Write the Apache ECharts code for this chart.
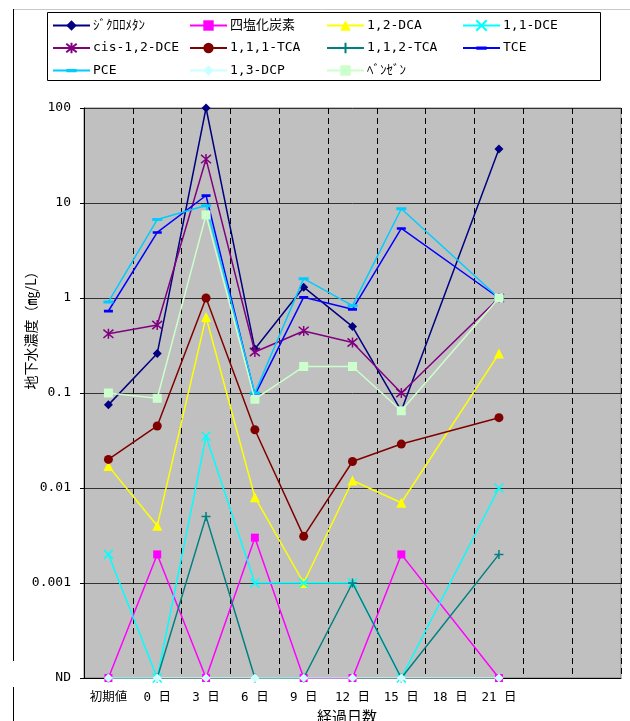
<!DOCTYPE html>
<html>
<head>
<meta charset="utf-8">
<script src="https://cdn.jsdelivr.net/npm/echarts@6/dist/echarts.min.js"></script>
<style>
html,body{margin:0;padding:0;background:#fff;}
#chart{width:630px;height:721px;}
</style>
</head>
<body>
<div id="chart"></div>
<script>
// ---- data ----
const ND = 0.0001;
const categories = ['初期値', '0 日', '3 日', '6 日', '9 日', '12 日', '15 日', '18 日', '21 日', '', ' '];
const yTickLabels = ['ND', '0.001', '0.01', '0.1', '1', '10', '100'];
const seriesNames = ['ｼﾞｸﾛﾛﾒﾀﾝ', '四塩化炭素', '1,2-DCA', '1,1-DCE', 'cis-1,2-DCE', '1,1,1-TCA', '1,1,2-TCA', 'TCE', 'PCE', '1,3-DCP', 'ﾍﾞﾝｾﾞﾝ'];
const dichloromethane = [0.075, 0.26, 100, 0.29, 1.3, 0.5, 0.065, '-', 37];
const carbonTetrachloride = [ND, 0.002, ND, 0.003, ND, ND, 0.002, '-', ND];
const dca12 = [0.017, 0.004, 0.63, 0.008, 0.001, 0.012, 0.007, '-', 0.26];
const dce11 = [0.002, ND, 0.035, 0.001, 0.001, 0.001, ND, '-', 0.01];
const cisDce12 = [0.42, 0.52, 29, 0.27, 0.45, 0.34, 0.1, '-', 1.0];
const tca111 = [0.02, 0.045, 1.0, 0.041, 0.0031, 0.019, 0.029, '-', 0.055];
const tca112 = [ND, ND, 0.005, ND, ND, 0.001, ND, '-', 0.002];
const tce = [0.73, 4.9, 12, 0.095, 1.02, 0.76, 5.4, '-', 1.0];
const pce = [0.91, 6.7, 9.4, 0.1, 1.6, 0.83, 8.7, '-', 1.0];
const dcp13 = [ND, ND, ND, ND, ND, ND, ND, '-', ND];
const benzene = [0.1, 0.088, 7.5, 0.086, 0.19, 0.19, 0.065, '-', 1.0];

const seriesData = [dichloromethane, carbonTetrachloride, dca12, dce11, cisDce12, tca111, tca112, tce, pce, dcp13, benzene];

// ---- styles ----
const colors = ['#000080', '#FF00FF', '#FFFF00', '#00FFFF', '#800080', '#800000', '#008080', '#0000FF', '#00CCFF', '#CCFFFF', '#CCFFCC'];
// a short bar centred inside an (invisible) square box
const dashPath = 'path://M0,0L0.01,0.01M10,10L9.99,9.99M0,3.6L10,3.6L10,6.6L0,6.6Z';
const symbols = [
  'diamond', 'rect', 'triangle',
  'path://M0,0L10,10M10,0L0,10',
  'path://M0,0L10,10M10,0L0,10M5,-1L5,11',
  'circle',
  'path://M5,0L5,10M0,5L10,5',
  dashPath, dashPath, 'diamond', 'rect'
];
const symbolSizes = [9, 8, 10, 9, 10, 9, 9, 9, 10, 9, 9];
const strokeSymbols = [3, 4, 6];

const mono = '"DejaVu Sans Mono", "Noto Sans CJK JP", monospace';
const cjk = '"Noto Sans CJK JP", "DejaVu Sans", sans-serif';

const chart = echarts.init(document.getElementById('chart'), null, {renderer: 'canvas'});

const series = seriesNames.map((name, i) => {
  const stroke = strokeSymbols.indexOf(i) >= 0;
  return {
    name: name,
    type: 'line',
    data: seriesData[i],
    connectNulls: true,
    symbol: symbols[i],
    symbolSize: symbolSizes[i],
    showAllSymbol: true,
    lineStyle: {color: colors[i], width: 1.5},
    itemStyle: stroke ? {color: colors[i], borderColor: colors[i], borderWidth: 1.5} : {color: colors[i], borderWidth: 0},
    emphasis: {disabled: true},
    z: 2 + i
  };
});

const legendCols = [
  {left: 52, names: ['ｼﾞｸﾛﾛﾒﾀﾝ', 'cis-1,2-DCE', 'PCE']},
  {left: 189, names: ['四塩化炭素', '1,1,1-TCA', '1,3-DCP']},
  {left: 326, names: ['1,2-DCA', '1,1,2-TCA', 'ﾍﾞﾝｾﾞﾝ']},
  {left: 462, names: ['1,1-DCE', 'TCE']}
];

const option = {
  animation: false,
  backgroundColor: '#ffffff',
  textStyle: {fontFamily: mono},
  legend: legendCols.map(c => ({
    orient: 'vertical',
    left: c.left,
    top: 19,
    padding: 0,
    itemWidth: 37,
    itemHeight: 13,
    itemGap: 9.5,
    selectedMode: false,
    data: c.names,
    textStyle: {fontSize: 13, fontFamily: mono, color: '#000', padding: [0, 0, 0, -2]}
  })),
  grid: {
    left: 84, top: 108, width: 537, height: 570,
    show: true, backgroundColor: '#C0C0C0', borderColor: '#808080', borderWidth: 1,
    containLabel: false
  },
  xAxis: {
    type: 'category',
    data: categories,
    boundaryGap: true,
    axisLine: {show: true, lineStyle: {color: '#000', width: 1}},
    axisTick: {show: false},
    axisLabel: {color: '#000', fontSize: 12.5, fontFamily: mono, margin: 13, interval: 0},
    splitLine: {show: true, lineStyle: {color: '#000', width: 1, type: [6, 4]}}
  },
  yAxis: {
    type: 'log',
    logBase: 10,
    min: 0.0001,
    max: 100,
    interval: 1,
    axisLine: {show: true, lineStyle: {color: '#000', width: 1}},
    axisTick: {show: true, length: 4, inside: false, lineStyle: {color: '#000'}},
    minorTick: {show: false},
    axisLabel: {
      color: '#000', fontSize: 13, fontFamily: mono, margin: 13,
      formatter: function (v) {
        const e = Math.round(Math.log10(v));
        const idx = e + 4;
        return yTickLabels[idx] !== undefined ? yTickLabels[idx] : '';
      }
    },
    splitLine: {show: true, lineStyle: {color: '#333333', width: 1}}
  },
  graphic: [
    {type: 'line', shape: {x1: 13, y1: 9.5, x2: 630, y2: 9.5}, style: {stroke: '#c8c8c8', lineWidth: 1}, silent: true},
    {type: 'line', shape: {x1: 13.5, y1: 9, x2: 13.5, y2: 661}, style: {stroke: '#000', lineWidth: 1}, silent: true},
    {type: 'line', shape: {x1: 13.5, y1: 687, x2: 13.5, y2: 721}, style: {stroke: '#000', lineWidth: 1}, silent: true},
    {type: 'rect', shape: {x: 47.5, y: 12.5, width: 553, height: 68}, style: {fill: 'none', stroke: '#000', lineWidth: 1}, silent: true, z: -1},
    {
      type: 'text', x: 31, y: 327, rotation: Math.PI / 2,
      style: {text: '地下水濃度（㎎/L）', font: '14px ' + cjk, fill: '#000', align: 'center', verticalAlign: 'middle'},
      silent: true
    },
    {
      type: 'text', x: 347, y: 716,
      style: {text: '経過日数', font: '15px ' + cjk, fill: '#000', align: 'center', verticalAlign: 'middle'},
      silent: true
    }
  ],
  series: series
};

chart.setOption(option);
</script>
</body>
</html>
